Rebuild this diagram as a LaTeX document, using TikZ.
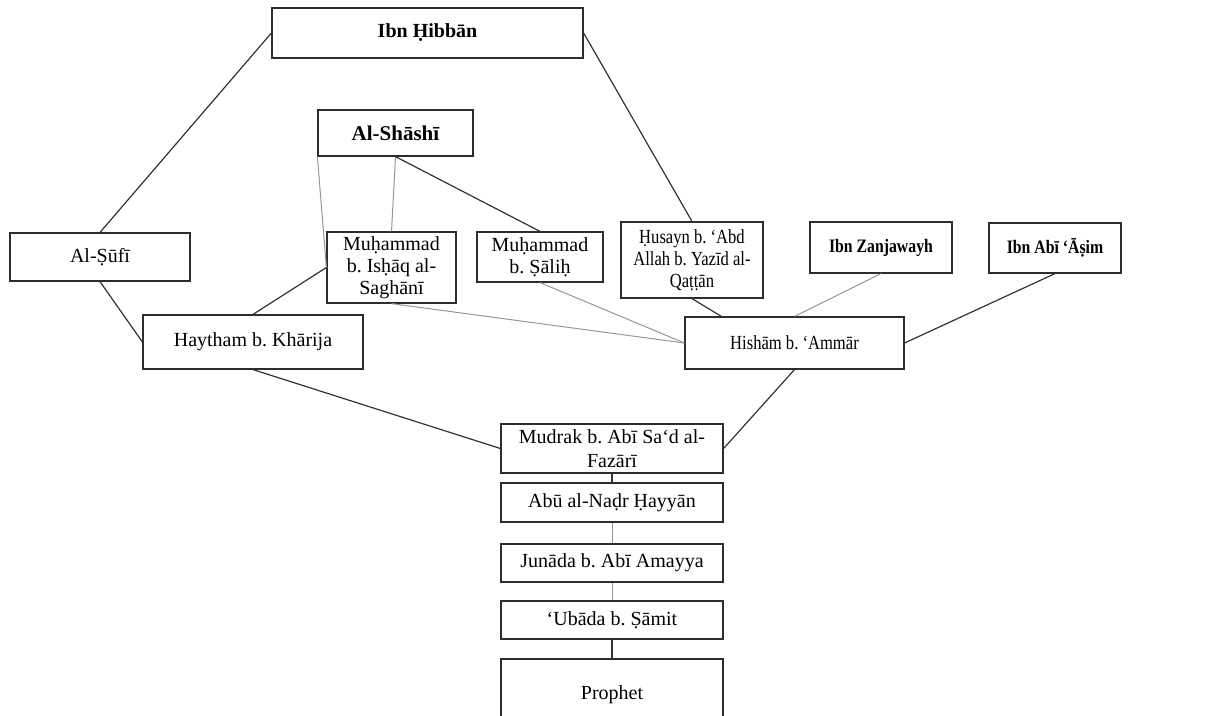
\documentclass[tikz,border=0pt]{standalone}
\usepackage{fontspec}
\setmainfont{Liberation Serif}
\newfontfamily\narrowserif[FakeStretch=0.83]{Liberation Serif}
\usetikzlibrary{positioning}
\definecolor{boxline}{RGB}{45,45,45}
\definecolor{linkdark}{RGB}{50,50,50}
\definecolor{linklight}{RGB}{150,150,150}
\frenchspacing

\begin{document}
\begin{tikzpicture}[
    x=1pt, y=-1pt,
    narrator/.style={draw=boxline, line width=1.2pt, fill=white, align=center, inner sep=0pt, font=\fontsize{20}{22}\selectfont},
    narrow/.style={font=\narrowserif\fontsize{20}{22}\selectfont},
    key/.style={narrator, font=\fontsize{20}{22}\selectfont\bfseries},
    narrowkey/.style={narrator, font=\narrowserif\fontsize{19}{22}\selectfont\bfseries},
    link/.style={draw=linkdark, line width=1.2pt},
    weak/.style={draw=linklight, line width=1pt}
]
    \useasboundingbox (0,0) rectangle (1221,715);

    % Compilers
    \node[key, minimum width=311pt, minimum height=50pt] (hibban) at (427.5,33) {Ibn Ḥibbān};
    \node[key, font=\fontsize{21}{22}\selectfont\bfseries, minimum width=155pt, minimum height=46pt] (shashi) at (395.5,133) {Al-Shāshī};
    \node[narrowkey, minimum width=142pt, minimum height=51pt] (zanjawayh) at (881,247.5) {Ibn Zanjawayh};
    \node[narrowkey, minimum width=132pt, minimum height=50pt] (asim) at (1055,248) {Ibn Abī ‘Āṣim};

    % Middle narrators
    \node[narrator, minimum width=180pt, minimum height=48pt] (sufi) at (100,257) {Al-Ṣūfī};
    \node[narrator, minimum width=129pt, minimum height=71pt] (ishaq) at (391.5,267.5) {Muḥammad\\b. Isḥāq al-\\Saghānī};
    \node[narrator, minimum width=126pt, minimum height=50pt] (salih) at (540,257) {Muḥammad\\b. Ṣāliḥ};
    \node[narrator, narrow, minimum width=142pt, minimum height=76pt] (husayn) at (692,260) {Ḥusayn b. ‘Abd\\Allah b. Yazīd al-\\Qaṭṭān};
    \node[narrator, minimum width=220pt, minimum height=54pt] (haytham) at (253,342) {Haytham b. Khārija};
    \node[narrator, narrow, minimum width=219pt, minimum height=52pt] (hisham) at (794.5,343) {Hishām b. ‘Ammār};

    % Single strand
    \node[narrator, minimum width=222pt, minimum height=49pt] (mudrak) at (612,448.5) {Mudrak b. Abī Sa‘d al-\\[2pt]Fazārī};
    \node[narrator, minimum width=222pt, minimum height=39pt] (nadr) at (612,502.5) {Abū al-Naḍr Ḥayyān};
    \node[narrator, minimum width=222pt, minimum height=38pt] (junada) at (612,563) {Junāda b. Abī Amayya};
    \node[narrator, minimum width=222pt, minimum height=38pt] (ubada) at (612,620) {‘Ubāda b. Ṣāmit};
    \node[narrator, minimum width=222pt, minimum height=71pt] (prophet) at (612,694.5) {Prophet};

    % Links
    \draw[link] (hibban.west) -- (sufi.north);
    \draw[link] (hibban.east) -- (husayn.north);
    \draw[link] (sufi.south) -- (haytham.west);
    \draw[link] (haytham.north) -- (ishaq.west);
    \draw[weak] (shashi.south west) -- (ishaq.west);
    \draw[weak] (shashi.south) -- (ishaq.north);
    \draw[link] (shashi.south) -- (salih.north);
    \draw[weak] (ishaq.south) -- (hisham.west);
    \draw[weak] (salih.south) -- (hisham.west);
    \draw[link] (husayn.south) -- (hisham.160);
    \draw[weak] (zanjawayh.south) -- (hisham.north);
    \draw[link] (asim.south) -- (hisham.east);
    \draw[link] (haytham.south) -- (mudrak.west);
    \draw[link] (hisham.south) -- (mudrak.east);
    \draw[link] (mudrak.south) -- (nadr.north);
    \draw[weak] (nadr.south) -- (junada.north);
    \draw[weak] (junada.south) -- (ubada.north);
    \draw[link] (ubada.south) -- (prophet.north);
\end{tikzpicture}
\end{document}
